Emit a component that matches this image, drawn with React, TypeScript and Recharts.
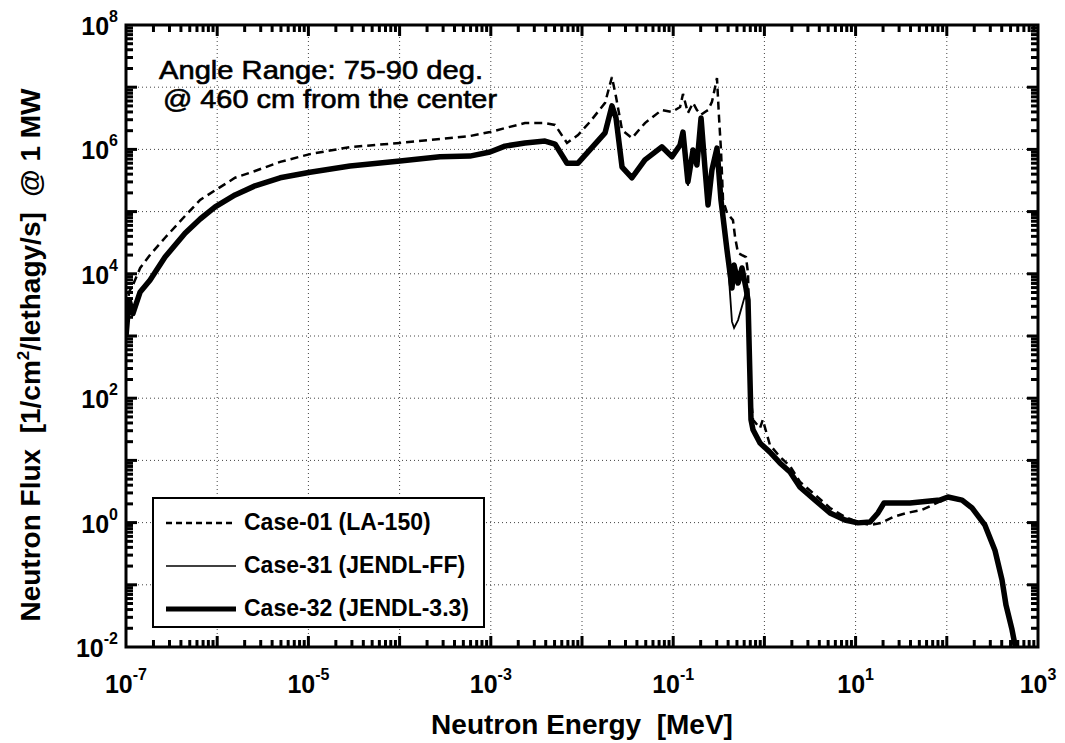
import React from "react";
import { LineChart, Line, XAxis, YAxis, ReferenceLine, ReferenceArea, Legend, Label } from "recharts";

const FONT = '"Liberation Sans", Arial, Helvetica, sans-serif';

// Case-01 (LA-150), dashed
const case01Energy = [
  1e-7, 1.08e-7, 1.19e-7, 1.43e-7, 1.83e-7, 2.68e-7, 4.44e-7, 6.5e-7, 9.5e-7, 1.57e-6,
  2.6e-6, 4.9e-6, 1.04e-5, 2.86e-5, 1.01e-4, 2.77e-4, 5.9e-4, 9.8e-4, 1.43e-3, 2.37e-3,
  3.93e-3, 5.06e-3, 6.85e-3, 9.04e-3, 1.22e-2, 1.79e-2, 2.13e-2, 2.36e-2, 2.75e-2, 3.53e-2,
  4.9e-2, 7.5e-2, 9.7e-2, 0.119, 0.128, 0.145, 0.165, 0.182, 0.202, 0.223,
  0.241, 0.266, 0.302, 0.318, 0.334, 0.352, 0.389, 0.452, 0.478, 0.514,
  0.568, 0.628, 0.661, 0.713, 0.75, 0.895, 0.96, 1.15, 1.48, 1.91,
  2.46, 3.59, 5.24, 7.65, 10.6, 14.4, 19.2, 25.7, 36.6, 53.5,
  78, 103, 147, 189, 262, 337, 403, 446, 519, 604,
];
const case01Flux = [
  1.7e3, 5.1e3, 6.6e3, 1.24e4, 2.0e4, 3.8e4, 8.5e4, 1.54e5, 2.2e5, 3.5e5,
  4.5e5, 6.3e5, 8.4e5, 1.09e6, 1.27e6, 1.47e6, 1.64e6, 1.9e6, 2.2e6, 2.65e6,
  2.65e6, 2.47e6, 1.27e6, 1.7e6, 2.76e6, 5.6e6, 1.46e7, 7.0e6, 2.05e6, 1.52e6,
  2.65e6, 4.3e6, 4.0e6, 4.8e6, 7.8e6, 3.85e6, 5.6e6, 4.3e6, 3.6e6, 4.0e6,
  4.3e6, 5.8e6, 1.4e7, 3.3e6, 9.8e5, 1.54e5, 9.5e4, 7.3e4, 3.8e4, 2.16e4,
  2.0e4, 1.86e4, 1.03e4, 94, 45, 33, 45, 17.7, 11.4, 8.1,
  4.5, 2.8, 1.72, 1.23, 1.02, 0.91, 0.99, 1.23, 1.43, 1.6,
  2.07, 2.5, 2.3, 1.72, 0.91, 0.36, 0.12, 0.047, 0.019, 0.006,
];

// Case-31 (JENDL-FF) and Case-32 (JENDL-3.3) share one energy grid
const jendlEnergy = [
  1e-7, 1.08e-7, 1.19e-7, 1.43e-7, 1.83e-7, 2.68e-7, 4.44e-7, 6.5e-7, 9.5e-7, 1.57e-6,
  2.6e-6, 4.9e-6, 1.04e-5, 2.86e-5, 1.01e-4, 2.77e-4, 5.9e-4, 9.8e-4, 1.43e-3, 2.37e-3,
  3.93e-3, 5.06e-3, 6.85e-3, 9.04e-3, 1.22e-2, 1.79e-2, 2.13e-2, 2.36e-2, 2.75e-2, 3.53e-2,
  4.9e-2, 7.5e-2, 9.7e-2, 0.119, 0.128, 0.145, 0.165, 0.182, 0.202, 0.223,
  0.241, 0.266, 0.302, 0.334, 0.389, 0.441, 0.465, 0.514, 0.568, 0.628,
  0.661, 0.713, 0.75, 0.895, 1.15, 1.48, 1.91, 2.46, 3.59, 5.24,
  7.65, 10.6, 14.4, 17.6, 20.5, 39.5, 84, 103, 147, 189,
  262, 337, 403, 446, 519, 604,
];
const case31Flux = [
  1.1e3, 3.6e3, 2.4e3, 5.0e3, 8.0e3, 1.9e4, 4.4e4, 7.7e4, 1.2e5, 1.85e5,
  2.6e5, 3.5e5, 4.3e5, 5.4e5, 6.5e5, 7.6e5, 7.9e5, 9.1e5, 1.13e6, 1.27e6,
  1.35e6, 1.22e6, 6.1e5, 6.0e5, 9.8e5, 1.84e6, 4.8e6, 3.1e6, 5.3e5, 3.6e5,
  6.8e5, 1.1e6, 7.8e5, 1.2e6, 1.8e6, 2.6e5, 9.5e5, 5.8e5, 3.0e6, 5.2e5,
  1.3e5, 4.5e5, 1.0e6, 1.5e5, 2.4e4, 1.7e3, 1.35e3, 1.8e3, 3.0e3, 5.1e3,
  3.8e3, 45, 31, 19, 13.6, 9.1, 6.5, 3.7, 2.3, 1.43,
  1.1, 0.99, 1.02, 1.43, 2.07, 2.07, 2.3, 2.58, 2.3, 1.72,
  0.91, 0.36, 0.12, 0.047, 0.019, 0.006,
];
const case32Flux = [
  1.0e3, 3.8e3, 2.3e3, 5.1e3, 7.9e3, 1.86e4, 4.5e4, 7.6e4, 1.19e5, 1.85e5,
  2.6e5, 3.5e5, 4.3e5, 5.4e5, 6.5e5, 7.6e5, 7.8e5, 9.1e5, 1.13e6, 1.27e6,
  1.36e6, 1.22e6, 6.0e5, 6.0e5, 9.8e5, 1.84e6, 5.0e6, 3.2e6, 5.2e5, 3.5e5,
  6.8e5, 1.1e6, 7.6e5, 1.18e6, 1.9e6, 3.0e5, 9.8e5, 5.6e5, 3.2e6, 5.0e5,
  1.28e5, 4.7e5, 1.05e6, 1.54e5, 2.4e4, 5.9e3, 1.38e4, 7.1e3, 1.24e4, 5.9e3,
  3.8e3, 45, 31, 19, 13.6, 9.1, 6.5, 3.7, 2.3, 1.43,
  1.1, 0.99, 1.02, 1.43, 2.07, 2.07, 2.3, 2.58, 2.3, 1.72,
  0.91, 0.36, 0.12, 0.047, 0.019, 0.006,
];

const seriesNames = ["Case-01 (LA-150)", "Case-31 (JENDL-FF)", "Case-32 (JENDL-3.3)"];

// axis ticks
const xDecades = [-7, -6, -5, -4, -3, -2, -1, 0, 1, 2, 3];
const yDecades = [-2, -1, 0, 1, 2, 3, 4, 5, 6, 7, 8];
const xLabelExp = [-7, -5, -3, -1, 1, 3];
const yLabelExp = [-2, 0, 2, 4, 6, 8];
const minorSteps = [1, 2, 3, 4, 5, 6, 7, 8, 9];

const buildTicks = (decades: number[]) => {
  const out: number[] = [];
  decades.forEach((d, i) => {
    if (i === decades.length - 1) out.push(Math.pow(10, d));
    else minorSteps.forEach((k) => out.push(k * Math.pow(10, d)));
  });
  return out;
};
const xTicks = buildTicks(xDecades);
const yTicks = buildTicks(yDecades);
const xLabelTicks = xLabelExp.map((e) => Math.pow(10, e));
const yLabelTicks = yLabelExp.map((e) => Math.pow(10, e));

const toRows = (e: number[], f: number[]) => e.map((v, i) => ({ e: v, f: f[i] }));
const case01 = toRows(case01Energy, case01Flux);
const case31 = toRows(jendlEnergy, case31Flux);
const case32 = toRows(jendlEnergy, case32Flux);

const tickInfo = (v: number) => {
  const exp = Math.round(Math.log10(v));
  return { exp, major: Math.abs(v / Math.pow(10, exp) - 1) < 1e-6 };
};

const TICK = { stroke: "#000", strokeWidth: 3 };
const GRID = { stroke: "#444", strokeWidth: 1, strokeDasharray: "1 3" };

// inner tick marks (and decade grid lines) drawn from a reference line's end points
const vTickShape = (major: boolean) => (p: any) => {
  const top = Math.min(p.y1, p.y2);
  const bot = Math.max(p.y1, p.y2);
  const len = major ? 11 : 7;
  return (
    <g>
      {major && <line x1={p.x1} x2={p.x1} y1={top} y2={bot} {...GRID} />}
      <line x1={p.x1} x2={p.x1} y1={bot} y2={bot - len} {...TICK} />
      <line x1={p.x1} x2={p.x1} y1={top} y2={top + len} {...TICK} />
    </g>
  );
};
const hTickShape = (major: boolean) => (p: any) => {
  const left = Math.min(p.x1, p.x2);
  const right = Math.max(p.x1, p.x2);
  const len = major ? 11 : 7;
  return (
    <g>
      {major && <line x1={left} x2={right} y1={p.y1} y2={p.y1} {...GRID} />}
      <line x1={left} x2={left + len} y1={p.y1} y2={p.y1} {...TICK} />
      <line x1={right} x2={right - len} y1={p.y1} y2={p.y1} {...TICK} />
    </g>
  );
};

const renderXLabel = (props: any) => {
  const { x, y, payload } = props;
  const exp = tickInfo(payload.value).exp;
  return (
    <text x={x} y={y + 46} textAnchor="middle" fontFamily={FONT} fontWeight="bold" fontSize={25} fill="#000">
      10<tspan dy={-13} fontSize={16}>{exp}</tspan>
    </text>
  );
};

const renderYLabel = (props: any) => {
  const { x, y, payload } = props;
  const exp = tickInfo(payload.value).exp;
  return (
    <text x={x - 8} y={y + 10} textAnchor="end" fontFamily={FONT} fontWeight="bold" fontSize={25} fill="#000">
      10<tspan dy={-13} fontSize={16}>{exp}</tspan>
    </text>
  );
};

const legendStyles = [
  { dash: "6 4", width: 2.5 },
  { dash: undefined, width: 1.5 },
  { dash: undefined, width: 5 },
];

const LegendBox = () => (
  <div
    style={{
      boxSizing: "border-box",
      width: 333,
      height: 131,
      border: "2px solid #000",
      background: "#fff",
      paddingTop: 2,
      fontFamily: FONT,
    }}
  >
    {seriesNames.map((name, i) => (
      <div key={name} style={{ display: "flex", alignItems: "center", height: 43 }}>
        <svg width={70} height={10} style={{ marginLeft: 12 }}>
          <line
            x1={0}
            x2={70}
            y1={5}
            y2={5}
            stroke="#000"
            strokeWidth={legendStyles[i].width}
            strokeDasharray={legendStyles[i].dash}
          />
        </svg>
        <span style={{ marginLeft: 8, fontSize: 23, fontWeight: "bold", lineHeight: 1 }}>{name}</span>
      </div>
    ))}
  </div>
);

export default function App() {
  return (
    <div style={{ position: "relative", width: 1057, height: 735, background: "#fff" }}>
      <LineChart width={1057} height={735} margin={{ top: 17, right: 27, bottom: 0, left: 0 }}>
        <XAxis
          xAxisId="b"
          dataKey="e"
          type="number"
          scale="log"
          domain={[1e-7, 1e3]}
          ticks={xLabelTicks}
          interval={0}
          tick={renderXLabel}
          tickLine={false}
          tickSize={0}
          tickMargin={0}
          height={96}
          axisLine={false}
          allowDataOverflow
        >
          <Label
            content={(p: any) => {
              const vb = p.viewBox;
              return (
                <text
                  x={vb.x + vb.width / 2}
                  y={vb.y + 87}
                  textAnchor="middle"
                  fontFamily={FONT}
                  fontWeight="bold"
                  fontSize={28}
                  style={{ whiteSpace: "pre" }}
                >
                  Neutron Energy  [MeV]
                </text>
              );
            }}
          />
        </XAxis>
        <YAxis
          yAxisId="l"
          dataKey="f"
          type="number"
          scale="log"
          domain={[1e-2, 1e8]}
          ticks={yLabelTicks}
          interval={0}
          tick={renderYLabel}
          tickLine={false}
          tickSize={0}
          tickMargin={0}
          width={118}
          axisLine={false}
          allowDataOverflow
        >
          <Label
            content={(p: any) => {
              const vb = p.viewBox;
              const cx = vb.x + 32;
              const cy = vb.y + vb.height / 2 + 19;
              return (
                <text
                  x={cx}
                  y={cy}
                  transform={`rotate(-90, ${cx}, ${cy})`}
                  textAnchor="middle"
                  fontFamily={FONT}
                  fontWeight="bold"
                  fontSize={28}
                  style={{ whiteSpace: "pre" }}
                >
                  {"Neutron Flux  [1/cm"}
                  <tspan dy={-11} fontSize={17}>2</tspan>
                  <tspan dy={11}>{"/lethagy/s]  @ 1 MW"}</tspan>
                </text>
              );
            }}
          />
        </YAxis>

        {xTicks.slice(1, -1).map((v) => (
          <ReferenceLine
            key={`tx${v}`}
            xAxisId="b"
            yAxisId="l"
            x={v}
            shape={vTickShape(tickInfo(v).major)}
          />
        ))}
        {yTicks.slice(1, -1).map((v) => (
          <ReferenceLine
            key={`ty${v}`}
            xAxisId="b"
            yAxisId="l"
            y={v}
            shape={hTickShape(tickInfo(v).major)}
          />
        ))}

        <Line
          xAxisId="b"
          yAxisId="l"
          data={case01}
          dataKey="f"
          name={seriesNames[0]}
          type="linear"
          stroke="#000"
          strokeWidth={2.5}
          strokeDasharray="8 5"
          dot={false}
          isAnimationActive={false}
        />
        <Line
          xAxisId="b"
          yAxisId="l"
          data={case31}
          dataKey="f"
          name={seriesNames[1]}
          type="linear"
          stroke="#000"
          strokeWidth={1.8}
          dot={false}
          isAnimationActive={false}
        />
        <Line
          xAxisId="b"
          yAxisId="l"
          data={case32}
          dataKey="f"
          name={seriesNames[2]}
          type="linear"
          stroke="#000"
          strokeWidth={5.5}
          strokeLinejoin="round"
          dot={false}
          isAnimationActive={false}
        />

        <ReferenceArea
          xAxisId="b"
          yAxisId="l"
          x1={1e-7}
          x2={1e3}
          y1={1e-2}
          y2={1e8}
          fill="none"
          fillOpacity={0}
          stroke="#000"
          strokeWidth={3}
        />

        <Legend
          layout="vertical"
          align="center"
          verticalAlign="middle"
          wrapperStyle={{ position: "absolute", left: 144, top: 489, width: 333, height: 131 }}
          content={() => <LegendBox />}
        />
      </LineChart>
      <svg
        width={1057}
        height={735}
        style={{ position: "absolute", left: 0, top: 0, pointerEvents: "none" }}
      >
        <text fontFamily={FONT} fontSize={25} fill="#000" stroke="#000" strokeWidth={0.6}>
          <tspan x={151} y={71} textLength={324} lengthAdjust="spacingAndGlyphs">
            Angle Range: 75-90 deg.
          </tspan>
          <tspan x={155} y={100} textLength={334} lengthAdjust="spacingAndGlyphs">
            @ 460 cm from the center
          </tspan>
        </text>
      </svg>
    </div>
  );
}
